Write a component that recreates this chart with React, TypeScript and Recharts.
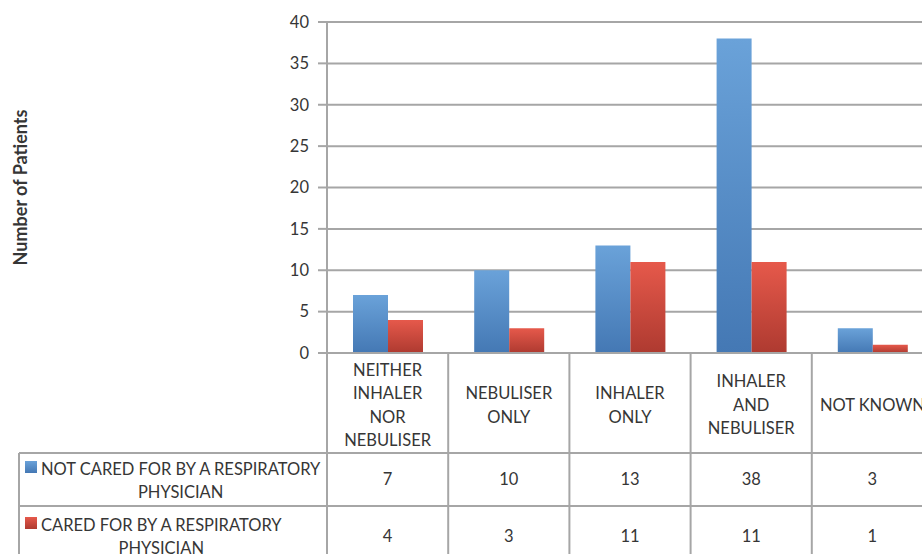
import { BarChart, Bar, XAxis, YAxis, CartesianGrid, Label } from "recharts"

// chart data
const categories = [
  "NEITHER\nINHALER\nNOR\nNEBULISER",
  "NEBULISER\nONLY",
  "INHALER\nONLY",
  "INHALER\nAND\nNEBULISER",
  "NOT KNOWN",
]
const notCared = [7, 10, 13, 38, 3]
const cared = [4, 3, 11, 11, 1]
const seriesNames = ["NOT CARED FOR BY A RESPIRATORY\nPHYSICIAN", "CARED FOR BY A RESPIRATORY\nPHYSICIAN"]
const yTicks = [0, 5, 10, 15, 20, 25, 30, 35, 40]

const chartData = categories.map((name, i) => ({
  name,
  notCared: notCared[i],
  cared: cared[i],
}))

// layout
const CHART_W = 960
const CHART_H = 554
const PLOT_LEFT = 327
const PLOT_RIGHT = 933
const PLOT_TOP = 22
const BASELINE = 353
const BAND = (PLOT_RIGHT - PLOT_LEFT) / categories.length
const HEADER_H = 100
const ROW_H = [53, 60]
const ROW_PAD = [8, 11] // legend key offset from the top of each row
const LEGEND_LEFT = 19

const FONT = "Lato, 'Open Sans', sans-serif"
const FS = 16.5
const TEXT = "#363636"
const LINE = "#a6a6a6"
const seriesGradients = [
  ["#6aa2d9", "#4478b4"],
  ["#e6594b", "#ae3a30"],
]

// data table under the x axis: one column per category, legend column on the left
const TableColumn = (props: any) => {
  const { x, y, payload, index } = props
  const half = payload?.offset || BAND / 2
  const left = x - half
  const right = x + half
  const lines = categories[index].split("\n")
  const headerMid = y + HEADER_H / 2 + 2
  const lh = 23.5
  const rowTops = [y + HEADER_H, y + HEADER_H + ROW_H[0]]
  const bottom = rowTops[1] + ROW_H[1]
  const values = [notCared[index], cared[index]]
  const tableRight = left + half * 2 * categories.length

  return (
    <g fontFamily={FONT} fontSize={FS} fill={TEXT}>
      <line x1={right} y1={y} x2={right} y2={bottom} stroke={LINE} strokeWidth={2} />
      {index === 0 && (
        <g>
          <line x1={left} y1={y} x2={left} y2={bottom} stroke={LINE} strokeWidth={2} />
          <line x1={LEGEND_LEFT} y1={rowTops[0]} x2={LEGEND_LEFT} y2={bottom} stroke={LINE} strokeWidth={2} />
          {rowTops.map((t) => (
            <line key={t} x1={LEGEND_LEFT} y1={t} x2={tableRight} y2={t} stroke={LINE} strokeWidth={2} />
          ))}
          {seriesNames.map((s, i) => {
            const [l1, l2] = s.split("\n")
            return (
              <g key={s}>
                <rect x={LEGEND_LEFT + 6} y={rowTops[i] + ROW_PAD[i]} width={12} height={12} fill={`url(#grad${i})`} />
                <foreignObject x={LEGEND_LEFT + 22} y={rowTops[i] + ROW_PAD[i] - 3} width={300} height={ROW_H[i]}>
                  <div
                    style={{
                      display: "inline-block",
                      textAlign: "center",
                      whiteSpace: "nowrap",
                      fontFamily: FONT,
                      fontSize: FS,
                      lineHeight: "23px",
                      color: TEXT,
                    }}
                  >
                    {l1}
                    <br />
                    {l2}
                  </div>
                </foreignObject>
              </g>
            )
          })}
        </g>
      )}
      <text textAnchor="middle">
        {lines.map((l, i) => (
          <tspan key={i} x={x} y={headerMid + (i - (lines.length - 1) / 2) * lh} dy="0.36em">
            {l}
          </tspan>
        ))}
      </text>
      {values.map((v, i) => (
        <text key={i} x={x} y={rowTops[i] + ROW_H[i] / 2} dy="0.36em" textAnchor="middle">
          {v}
        </text>
      ))}
    </g>
  )
}

export default function App() {
  return (
    <div style={{ position: "absolute", left: 0, top: 0, width: 922, height: 554, overflow: "hidden", background: "#fff" }}>
      <BarChart
        width={CHART_W}
        height={CHART_H}
        data={chartData}
        margin={{ top: PLOT_TOP, right: CHART_W - PLOT_RIGHT, left: 0, bottom: 0 }}
        barSize={35}
        barGap={0}
      >
        <defs>
          {seriesGradients.map(([top, bottom], i) => (
            <linearGradient key={i} id={`grad${i}`} x1="0" y1="0" x2="0" y2="1">
              <stop offset="0%" stopColor={top} />
              <stop offset="100%" stopColor={bottom} />
            </linearGradient>
          ))}
        </defs>
        <CartesianGrid vertical={false} stroke={LINE} strokeWidth={2} />
        <XAxis
          dataKey="name"
          height={CHART_H - BASELINE}
          interval={0}
          tickLine={false}
          tickSize={0}
          tickMargin={0}
          axisLine={{ stroke: LINE, strokeWidth: 2 }}
          tick={<TableColumn />}
        />
        <YAxis
          width={PLOT_LEFT}
          domain={[0, 40]}
          ticks={yTicks}
          tickSize={9}
          tickMargin={9}
          tickLine={{ stroke: LINE, strokeWidth: 2 }}
          axisLine={{ stroke: LINE, strokeWidth: 2 }}
          tick={{ fill: TEXT, fontSize: FS, fontFamily: FONT }}
        >
          <Label
            content={({ viewBox }: any) => {
              const cy = viewBox.y + viewBox.height / 2
              return (
                <text
                  x={20}
                  y={cy}
                  transform={`rotate(-90 20 ${cy})`}
                  textAnchor="middle"
                  dominantBaseline="central"
                  fontFamily={FONT}
                  fontWeight="bold"
                  fontSize={18}
                  fill={TEXT}
                >
                  Number of Patients
                </text>
              )
            }}
          />
        </YAxis>
        <Bar dataKey="notCared" name={seriesNames[0]} fill="url(#grad0)" isAnimationActive={false} />
        <Bar dataKey="cared" name={seriesNames[1]} fill="url(#grad1)" isAnimationActive={false} />
      </BarChart>
    </div>
  )
}
